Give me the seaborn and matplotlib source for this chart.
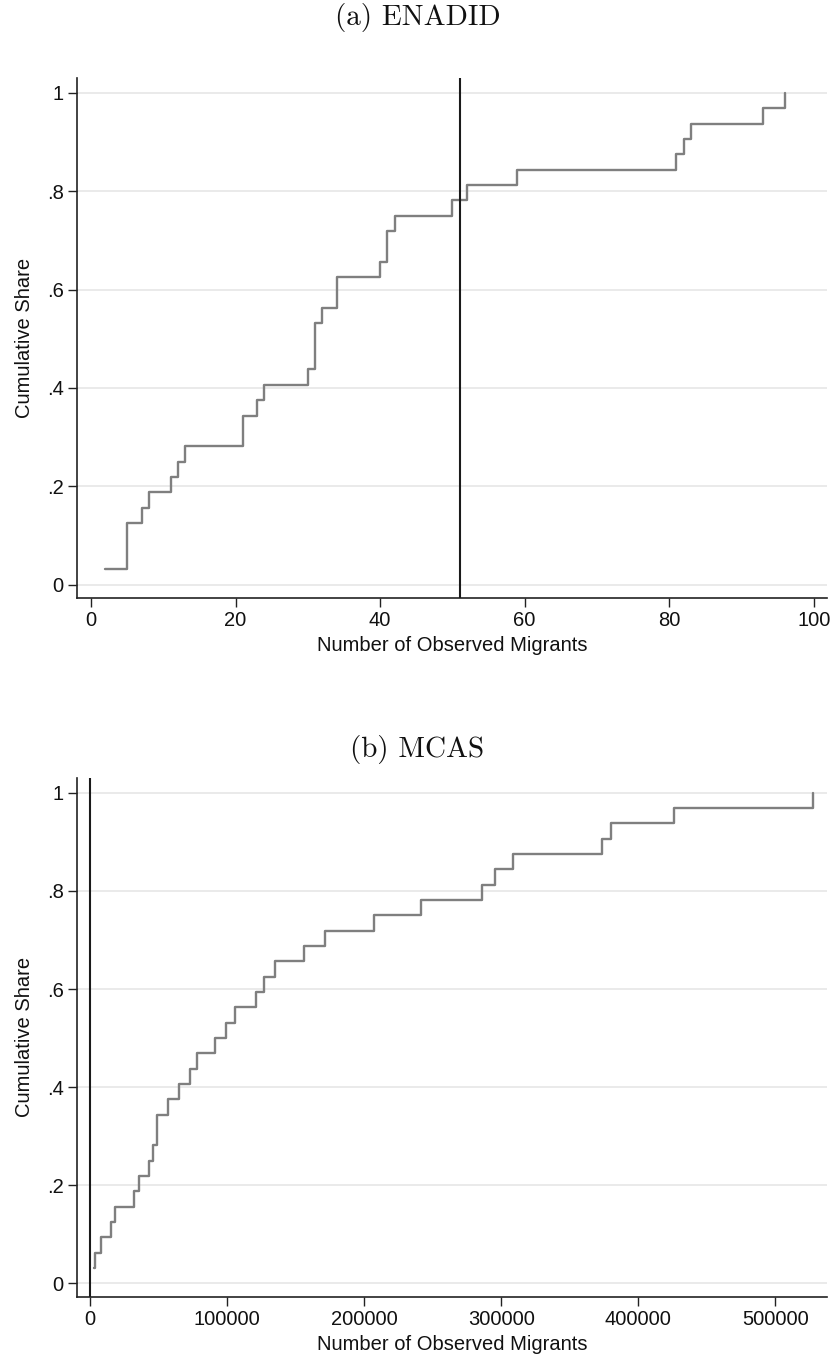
import numpy as np
import pandas as pd
import matplotlib
matplotlib.use("Agg")
import matplotlib.pyplot as plt
import seaborn as sns

# Observed migrants per state (32 states) in each survey
enadid_migrants = [2, 5, 5, 5, 7, 8, 11, 12, 13, 21, 21, 23, 24, 30, 31, 31, 31,
                   32, 34, 34, 40, 41, 41, 42, 50, 52, 59, 81, 82, 83, 93, 96]
mcas_migrants = [2900, 3900, 7800, 15500, 18200, 32300, 35500, 42800, 45700,
                 48600, 49200, 57100, 65000, 72600, 78200, 91300, 99100, 105700,
                 120800, 126900, 134700, 155900, 171200, 207500, 241400, 285900,
                 295400, 308500, 373800, 379900, 426400, 527800]
threshold = 51

panel_titles = ["(a) ENADID", "(b) MCAS"]
y_ticks = [0, 0.2, 0.4, 0.6, 0.8, 1.0]
y_tick_labels = ["0", ".2", ".4", ".6", ".8", "1"]
x_ticks_a = [0, 20, 40, 60, 80, 100]
x_ticks_b = [0, 100000, 200000, 300000, 400000, 500000]
x_label = "Number of Observed Migrants"
y_label = "Cumulative Share"

sns.set_style("white")
plt.rcParams["font.family"] = ["Liberation Sans", "DejaVu Sans"]

W, H = 835, 1357
fig = plt.figure(figsize=(W / 100, H / 100), dpi=100)


def axes_box(left, top, right, bottom):
    return [left / W, 1 - bottom / H, (right - left) / W, (bottom - top) / H]


def ecdf_frame(values):
    s = pd.Series(values)
    cum = s.value_counts().sort_index().cumsum() / len(s)
    return pd.DataFrame({"migrants": cum.index.values, "share": cum.values})


panels = [
    (enadid_migrants, x_ticks_a, (-1.94, 101.8), axes_box(77, 78, 826.7, 598), 18),
    (mcas_migrants, x_ticks_b, (-9500, 537500), axes_box(77, 778, 826.7, 1296.7), 750),
]

for (vals, xt, xlim, box, title_y), title in zip(panels, panel_titles):
    ax = fig.add_axes(box)
    df = ecdf_frame(vals)
    ax.yaxis.grid(True, color="#e6e6e6", lw=1.2, zorder=0)
    ax.set_axisbelow(True)
    sns.lineplot(data=df, x="migrants", y="share", drawstyle="steps-post",
                 estimator=None, color="#7f7f7f", lw=1.7, ax=ax, zorder=3)
    ax.axvline(threshold, color="#1a1a1a", lw=1.5, zorder=4)
    ax.set_xlim(*xlim)
    ax.set_ylim(-0.027, 1.03)
    ax.set_xticks(xt)
    ax.set_xticklabels([str(v) for v in xt])
    ax.set_yticks(y_ticks)
    ax.set_yticklabels(y_tick_labels)
    ax.tick_params(axis="both", direction="out", length=6.5, width=1.0,
                   color="#222222", labelsize=14.5, pad=3, labelcolor="#111111")
    ax.tick_params(axis="x", bottom=True)
    ax.tick_params(axis="y", left=True)
    for side in ["top", "right"]:
        ax.spines[side].set_visible(False)
    for side in ["left", "bottom"]:
        ax.spines[side].set_color("#222222")
        ax.spines[side].set_linewidth(1.2)
    ax.set_xlabel(x_label, fontsize=14.5, labelpad=4.5, color="#111111")
    ax.set_ylabel(y_label, fontsize=14.5, labelpad=9, color="#111111")
    fig.text(0.5, 1 - title_y / H, title, ha="center", va="center",
             fontsize=21, family="cmr10", color="#111111")

fig.savefig("out.png", dpi=100)
